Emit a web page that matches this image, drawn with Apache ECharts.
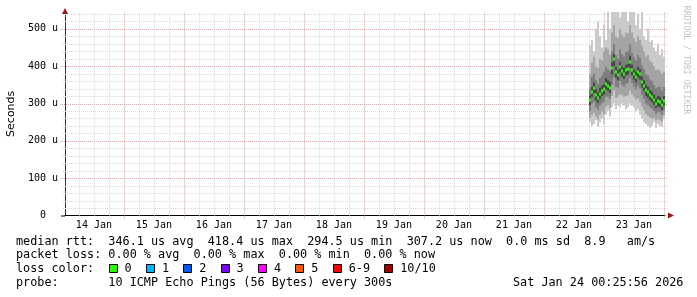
<!DOCTYPE html>
<html><head><meta charset="utf-8">
<script src="https://cdn.jsdelivr.net/npm/echarts@6/dist/echarts.min.js"></script>
<style>html,body{margin:0;padding:0;background:#fff}#c{width:697px;height:297px}</style>
</head><body><div id="c"></div><script>
// time in hours since 14 Jan 00:00
const axisStart = 0.43222;           // 14 Jan 00:25:56
const axisEnd = 240.43222;           // 24 Jan 00:25:56
const colStart = 210;                // 22 Jan 18:00
const colStep = 0.8;                 // hours per column
const median = [309,330,342,322,316,325,333,338,352,348,342,395,418,384,376,398,386,380,389,392,412,390,378,371,384,378,357,348,335,330,322,318,310,300,306,304,295,307];
const lo1 = [250,240,245,255,238,250,260,245,270,280,265,290,300,285,295,290,300,295,285,290,300,295,290,280,285,270,260,250,245,240,235,240,250,235,245,240,238,260];
const lo2 = [262,270,275,265,258,270,278,272,290,296,288,320,335,315,318,325,322,318,320,322,335,325,318,310,315,305,292,282,272,268,262,260,262,255,258,255,252,268];
const lo3 = [280,300,305,290,284,295,300,305,318,318,312,350,370,345,342,360,350,345,352,355,368,355,345,338,348,340,322,312,300,296,290,286,280,272,278,276,270,282];
const lo4 = [296,318,328,308,302,312,320,324,338,334,328,378,400,370,362,384,372,366,375,378,396,376,364,357,370,364,343,334,321,316,308,304,296,288,292,290,283,295];
const hi4 = [322,345,356,338,330,342,348,352,368,362,358,410,432,398,390,412,400,395,404,406,428,404,392,386,398,392,372,362,350,345,336,332,324,314,320,318,308,320];
const hi3 = [340,372,380,362,352,368,375,385,398,392,388,440,460,430,420,445,432,425,438,440,458,436,424,415,430,422,402,392,378,375,365,360,350,340,345,344,335,345];
const hi2 = [380,410,425,400,395,420,415,440,450,445,430,490,510,480,475,500,485,478,490,488,510,490,475,465,480,470,455,440,425,430,415,410,400,390,392,388,380,385];
const hi1 = [455,470,440,500,520,480,450,510,470,545,500,560,560,560,560,530,560,560,560,520,560,560,560,510,540,500,545,480,470,500,465,470,450,440,460,430,445,425];
const dayLabels = ['14 Jan','15 Jan','16 Jan','17 Jan','18 Jan','19 Jan','20 Jan','21 Jan','22 Jan','23 Jan'];
const yMajor = [0,100,200,300,400,500];
const yMax = 545;

const legendLines = [
  'median rtt:  346.1 us avg  418.4 us max  294.5 us min  307.2 us now  0.0 ms sd  8.9   am/s',
  'packet loss: 0.00 % avg  0.00 % max  0.00 % min  0.00 % now',
  'loss color:',
  'probe:       10 ICMP Echo Pings (56 Bytes) every 300s'
];
const lossLabels = ['0','1','2','3','4','5','6-9','10/10'];
const lossColors = ['#26ff00','#00b8ff','#0059ff','#7e00ff','#ff00ff','#ff5500','#ff0000','#a10000'];
const stamp = 'Sat Jan 24 00:25:56 2026';

const G = {left:65, width:600, top:12, height:203.6};
const mono = '"DejaVu Sans Mono", monospace';

function band(lo, hi){
  return median.map((_, i) => [colStart + i*colStep, colStart + (i+1)*colStep, lo[i], hi[i]]);
}
function bandItem(params, api){
  const a = api.coord([api.value(0), api.value(3)]);
  const b = api.coord([api.value(1), api.value(2)]);
  const x0 = Math.round(a[0]), x1 = Math.round(b[0]);
  return {type:'rect', shape:{x:x0, y:a[1], width:x1-x0, height:b[1]-a[1]}, style:{fill: api.visual('color')}};
}
function medItem(params, api){
  const a = api.coord([api.value(0), api.value(2)]);
  const b = api.coord([api.value(1), api.value(2)]);
  const x0 = Math.round(a[0]), x1 = Math.round(b[0]);
  return {type:'rect', shape:{x:x0, y:Math.round(a[1])-1.5, width:x1-x0, height:3}, style:{fill: api.visual('color')}};
}
const vgridData = [];
for (let h = 0; h <= 240; h += 6) vgridData.push([h]);
const hgridData = [];
for (let v = 0; v <= 540; v += 20) hgridData.push([v]);

function vgridItem(params, api){
  const t = api.value(0);
  if (t < axisStart || t > axisEnd) return null;
  const x = Math.round(api.coord([t, 0])[0]) + 0.5;
  const bottom = api.coord([t, 0])[1];
  const top = api.coord([t, yMax])[1];
  const major = (t % 24 === 0);
  return {type:'line', shape:{x1:x, y1:bottom + (major?3:2), x2:x, y2:top},
    style:{stroke: major ? '#eaa0a0' : '#dadada', lineWidth:1, lineDash:[1,1]}};
}
function hgridItem(params, api){
  const v = api.value(0);
  const y = Math.round(api.coord([axisStart, v])[1]) + 0.5;
  const x0 = api.coord([axisStart, v])[0];
  const x1 = api.coord([axisEnd, v])[0];
  if (v === 0) {
    return {type:'line', shape:{x1:x0 - 4, y1:y - 0.5, x2:x0, y2:y - 0.5}, style:{stroke:'#000', lineWidth:1}};
  }
  const major = (v % 100 === 0);
  return {type:'line', shape:{x1:x0 - (major?5:2), y1:y, x2:x1 + 3, y2:y},
    style:{stroke: major ? '#eaa0a0' : '#dadada', lineWidth:1, lineDash:[1,1]}};
}
function dayLabelItem(params, api){
  const p = api.coord([api.value(0), 0]);
  return {type:'text', x:p[0], y:p[1] + 9.5,
    style:{text: dayLabels[params.dataIndex], font:'10px ' + mono, fill:'#000', align:'center', verticalAlign:'middle'}};
}

const chart = echarts.init(document.getElementById('c'), null, {renderer:'canvas'});
const cw = 7.116, lx = 16, ly = [241.5, 255.2, 269, 282.8];
const graphics = [];
legendLines.forEach((s, i) => graphics.push({type:'text', x:lx, y:ly[i],
  style:{text:s, font:'11.8px ' + mono, fill:'#000', verticalAlign:'middle'}}));
let col = 13;
lossLabels.forEach((lab, i) => {
  const bx = Math.round(lx + col*cw);
  graphics.push({type:'rect', shape:{x:bx+0.5, y:264.5, width:8, height:8},
    style:{fill:lossColors[i], stroke:'#000', lineWidth:1}});
  graphics.push({type:'text', x:lx + (col+2.25)*cw, y:ly[2],
    style:{text:lab, font:'11.8px ' + mono, fill:'#000', verticalAlign:'middle'}});
  col += 2.25 + lab.length + 2;
});
graphics.push({type:'text', x:513, y:ly[3], style:{text:stamp, font:'11.8px ' + mono, fill:'#000', verticalAlign:'middle'}});
graphics.push({type:'text', x:686, y:60, rotation:-Math.PI/2,
  style:{text:'RRDTOOL / TOBI OETIKER', font:'8.2px ' + mono, fill:'#c4c4c4', align:'center', verticalAlign:'middle'}});
// axis arrows
graphics.push({type:'polygon', shape:{points:[[G.left-3, G.top+2],[G.left+3, G.top+2],[G.left, G.top-4]]}, style:{fill:'#a01818'}});
graphics.push({type:'polygon', shape:{points:[[G.left+G.width+3, G.top+G.height-3],[G.left+G.width+3, G.top+G.height+3],[G.left+G.width+9, G.top+G.height]]}, style:{fill:'#a01818'}});

chart.setOption({
  animation:false,
  backgroundColor:'#fff',
  grid:{left:G.left, width:G.width, top:G.top, height:G.height, containLabel:false, outerBoundsMode:'none'},
  xAxis:{type:'value', min:axisStart, max:axisEnd,
    axisLine:{show:true, lineStyle:{color:'#000', width:1}},
    axisTick:{show:false}, axisLabel:{show:false}, splitLine:{show:false}},
  yAxis:{type:'value', min:0, max:yMax, interval:100,
    name:'Seconds', nameLocation:'middle', nameRotate:90, nameGap:46,
    nameTextStyle:{fontFamily:'DejaVu Sans', fontSize:11, color:'#000'},
    axisLine:{show:true, lineStyle:{color:'#333', width:1}},
    axisTick:{show:false},
    axisLabel:{margin:7, fontFamily:'DejaVu Sans Mono', fontSize:10, color:'#000',
      formatter: v => (yMajor.indexOf(v) < 0 ? '' : (v === 0 ? '0  ' : v + ' u'))},
    splitLine:{show:false}},
  graphic: graphics,
  series:[
    {type:'custom', name:'hgrid', data:hgridData, renderItem:hgridItem, clip:false, silent:true, z:1},
    {type:'custom', name:'vgrid', data:vgridData, renderItem:vgridItem, clip:false, silent:true, z:1},
    {type:'custom', name:'smoke1', data:band(lo1, hi1), renderItem:bandItem, clip:true, itemStyle:{color:'#cacaca'}, z:2, encode:{x:[0,1], y:[2,3]}},
    {type:'custom', name:'smoke2', data:band(lo2, hi2), renderItem:bandItem, clip:true, itemStyle:{color:'#a4a4a4'}, z:2, encode:{x:[0,1], y:[2,3]}},
    {type:'custom', name:'smoke3', data:band(lo3, hi3), renderItem:bandItem, clip:true, itemStyle:{color:'#7e7e7e'}, z:2, encode:{x:[0,1], y:[2,3]}},
    {type:'custom', name:'smoke4', data:band(lo4, hi4), renderItem:bandItem, clip:true, itemStyle:{color:'#484848'}, z:2, encode:{x:[0,1], y:[2,3]}},
    {type:'custom', name:'median', data:median.map((m,i)=>[colStart+i*colStep, colStart+(i+1)*colStep, m]), renderItem:medItem, clip:true, itemStyle:{color:'#26ff00'}, z:3, encode:{x:[0,1], y:2}},
    {type:'custom', name:'days', data:dayLabels.map((_, i) => [i*24 + 12]), renderItem:dayLabelItem, clip:false, silent:true, z:3}
  ]
});
</script></body></html>
